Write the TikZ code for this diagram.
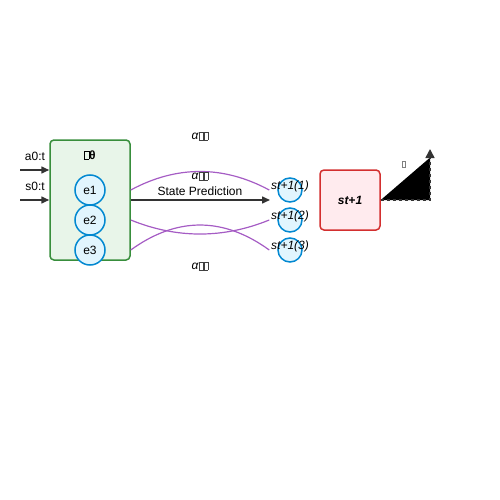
\documentclass[tikz,border=0pt]{standalone}
\usepackage{fontspec}
\setmainfont{Liberation Sans}
\usetikzlibrary{arrows.meta}
\definecolor{modelline}{HTML}{388E3C}
\definecolor{modelfill}{HTML}{E8F5E9}
\definecolor{circline}{HTML}{0288D1}
\definecolor{circfill}{HTML}{E1F5FE}
\definecolor{nextline}{HTML}{D32F2F}
\definecolor{nextfill}{HTML}{FFEBEE}
\definecolor{routeline}{HTML}{A55CC4}
\definecolor{arrline}{HTML}{333333}
\newcommand{\tofu}[1][black]{\textcolor{#1}{\setlength{\fboxsep}{0pt}\setlength{\fboxrule}{0.5pt}\fbox{\rule{0pt}{0.62em}\hspace{0.32em}}}}
\begin{document}
\begin{tikzpicture}[x=1pt,y=-1pt,font=\fontsize{12}{14}\selectfont,
    arr/.style={draw=arrline,line width=1.5pt,-{Triangle[length=8pt,width=7pt]}},
    route/.style={draw=routeline,line width=1.2pt},
    expert/.style={circle,draw=circline,fill=circfill,line width=1.5pt,minimum size=30pt,inner sep=0pt},
    outcome/.style={circle,draw=circline,fill=circfill,line width=1.5pt,minimum size=24pt,inner sep=0pt}]
    \useasboundingbox (0,0) rectangle (500,500);
    % model block
    \node[draw=modelline,fill=modelfill,line width=1.5pt,rounded corners=4pt,minimum width=80pt,minimum height=120pt] (model) at (90,200) {};
    \node[font=\fontsize{12}{14}\selectfont\bfseries] (fname) at (90,155) {\tofu θ};
    \node[expert] (e1) at (90,190) {e1};
    \node[expert] (e2) at (90,220) {e2};
    \node[expert] (e3) at (90,250) {e3};
    % inputs
    \coordinate (ain) at (20,170);
    \coordinate (sin) at (20,200);
    \draw[arr] (ain) -- (model.west |- ain);
    \draw[arr] (sin) -- (model.west |- sin);
    \node (alabel) at (35,156) {a0:t};
    \node (slabel) at (35,186) {s0:t};
    % predicted states
    \node[outcome] (s1) at (290,190) {};
    \node[outcome] (s2) at (290,220) {};
    \node[outcome] (s3) at (290,250) {};
    \coordinate (predend) at (270,200);
    \draw[arr] (model.east |- predend) -- (predend);
    \node (pred) at (200,191) {State Prediction};
    \draw[route] (model.east |- e1) .. controls (176.7,165.3) and (223.3,165.3) .. ([xshift=-8pt]s1.west);
    \draw[route] (model.east |- e2) .. controls (176.7,238.7) and (223.3,238.7) .. ([xshift=-8pt]s2.west);
    \draw[route] (model.east |- e3) .. controls (176.7,216.7) and (223.3,216.7) .. ([xshift=-8pt]s3.west);
    \node (w1) at (200,136) {\textit{α}\tofu[darkgray]\tofu[darkgray]};
    \node (w2) at (200,176) {\textit{α}\tofu[darkgray]\tofu[darkgray]};
    \node (w3) at (200,266) {\textit{α}\tofu[darkgray]\tofu[darkgray]};
    \node[font=\fontsize{12}{14}\selectfont\itshape] (l1) at (290,186) {st+1(1)};
    \node[font=\fontsize{12}{14}\selectfont\itshape] (l2) at (290,216) {st+1(2)};
    \node[font=\fontsize{12}{14}\selectfont\itshape] (l3) at (290,246) {st+1(3)};
    % next state
    \node[draw=nextline,fill=nextfill,line width=1.5pt,rounded corners=4pt,minimum size=60pt,font=\fontsize{12}{14}\selectfont\bfseries\itshape] (next) at (350,200) {st+1};
    \coordinate (tcorner) at (430,200);
    \coordinate (ttop) at (430,149);
    \filldraw[fill=black,draw=arrline,line width=1.5pt,dashed,-{Triangle[length=9pt,width=9pt]}] (next.east) -- (tcorner) -- (ttop);
    \node[font=\fontsize{9}{10}\selectfont] (tlabel) at (404,164) {\tofu[gray]};
\end{tikzpicture}
\end{document}
